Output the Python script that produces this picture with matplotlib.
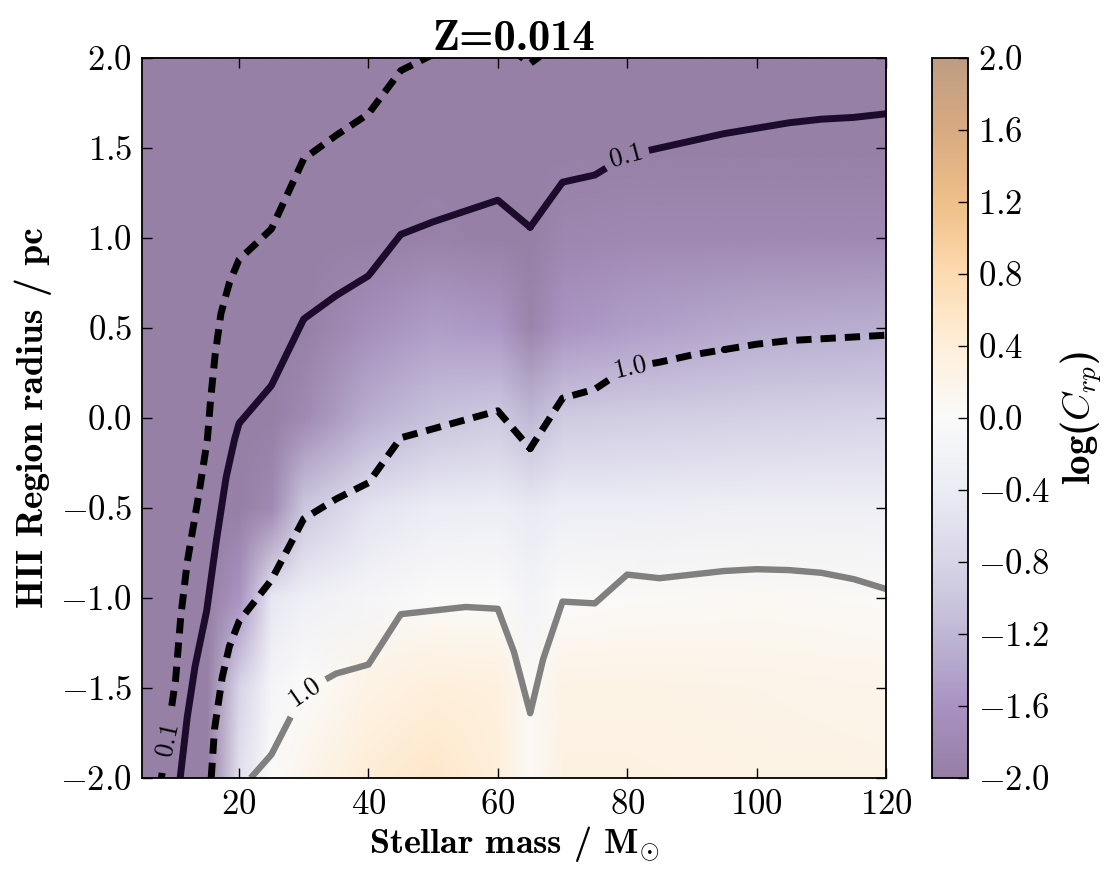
import numpy as np
import matplotlib
matplotlib.use('Agg')
import matplotlib.pyplot as plt
from matplotlib.image import NonUniformImage
from matplotlib.colors import ListedColormap
from matplotlib.ticker import FuncFormatter

plt.rcParams.update({
    'font.family': 'cmr10',
    'mathtext.fontset': 'cm',
    'axes.unicode_minus': False,
    'axes.linewidth': 1.3,
})

# background: log(C_rp) on a coarse grid
bg_mass = np.array([5, 10, 15, 20, 25, 30, 40, 50, 60, 65, 70, 80, 100, 120])
bg_radius = np.array([-2.0, -1.5, -1.0, -0.5, 0.0, 0.5, 1.0, 1.5, 2.0])
bg_logc = np.array([
    [-2.5, -2.5, -2.5, -0.6,  0.0,  0.2,  0.45,  0.55,  0.4,  0.05,  0.3,  0.3,  0.28,  0.25],
    [-2.5, -2.5, -2.5, -0.8, -0.15, 0.0,  0.25,  0.4,   0.35, 0.05,  0.25, 0.25, 0.22,  0.2],
    [-2.5, -2.5, -2.5, -1.6, -0.5, -0.3, -0.15,  0.0,   0.0, -0.2,   0.0,  0.05, 0.08,  0.05],
    [-2.5, -2.5, -2.5, -2.3, -1.8, -1.0, -0.55, -0.4,  -0.35, -0.45, -0.35, -0.35, -0.3, -0.3],
    [-2.5, -2.5, -2.5, -2.5, -2.2, -1.8, -1.3, -1.05, -0.95, -1.2, -0.95, -0.9, -0.85, -0.8],
    [-2.5, -2.5, -2.5, -2.5, -2.5, -2.1, -1.7,  -1.5,  -1.55, -1.9, -1.6, -1.5, -1.35, -1.3],
    [-2.5, -2.5, -2.5, -2.5, -2.5, -2.5, -2.0,  -1.95, -2.0, -2.2, -1.85, -1.8, -1.8, -1.8],
    [-2.5, -2.5, -2.5, -2.5, -2.5, -2.5, -2.4,  -2.3,  -2.3, -2.4, -2.3, -2.3, -2.3, -2.3],
    [-2.5, -2.5, -2.5, -2.5, -2.5, -2.5, -2.5,  -2.5,  -2.5, -2.5, -2.5, -2.5, -2.5, -2.5],
])

# contour lines (mass, radius)
dash01_mass = [8, 9, 10.2, 11, 12, 13.8, 15.1, 15.6, 16.3, 17.2, 18.5, 20, 25, 30, 35, 40, 45, 50, 55, 60, 65, 70, 80, 100, 120]
dash01_rad = [-2.0, -1.75, -1.45, -1.1, -0.8, -0.42, -0.12, 0.1, 0.35, 0.58, 0.75, 0.88, 1.05, 1.44, 1.57, 1.69, 1.93, 2.02, 2.08, 2.1, 1.97, 2.1, 2.2, 2.3, 2.4]

solid01_mass = [10.9, 12, 13.2, 15, 16.5, 18, 19.3, 20, 25, 30, 35, 40, 45, 50, 55, 60, 65, 70, 75, 80, 85, 90, 95, 100, 105, 110, 115, 120]
solid01_rad = [-2.0, -1.66, -1.38, -1.07, -0.68, -0.33, -0.12, -0.03, 0.18, 0.55, 0.68, 0.79, 1.02, 1.09, 1.15, 1.21, 1.06, 1.31, 1.35, 1.46, 1.50, 1.54, 1.58, 1.61, 1.64, 1.66, 1.67, 1.69]

dash10_mass = [15.7, 16.2, 17.4, 18.5, 20, 25, 30, 35, 40, 45, 50, 55, 60, 65, 70, 75, 80, 85, 90, 95, 100, 105, 110, 115, 120]
dash10_rad = [-2.0, -1.73, -1.44, -1.27, -1.13, -0.9, -0.56, -0.45, -0.36, -0.11, -0.06, -0.01, 0.04, -0.17, 0.11, 0.16, 0.28, 0.31, 0.35, 0.38, 0.41, 0.43, 0.44, 0.45, 0.46]

grey10_mass = [21.8, 25, 30, 35, 40, 45, 50, 55, 60, 62.5, 65, 67, 70, 75, 80, 85, 90, 95, 100, 105, 110, 115, 120]
grey10_rad = [-2.0, -1.87, -1.52, -1.42, -1.37, -1.09, -1.07, -1.05, -1.06, -1.3, -1.64, -1.34, -1.02, -1.03, -0.87, -0.89, -0.87, -0.85, -0.84, -0.845, -0.86, -0.895, -0.95]

cbar_ticks = np.round(np.arange(-2.0, 2.01, 0.4), 1)


def fmt1(v, p):
    return f'${round(v, 1) + 0.0:.1f}$'


# PuOr_r with half transparency baked in
cols = plt.get_cmap('PuOr_r')(np.linspace(0, 1, 256))
cols[:, 3] = 0.5
cmap = ListedColormap(cols)

fig = plt.figure(figsize=(11.15, 8.83), dpi=100)
ax = fig.add_axes([142/1115, 1 - 778/883, 744/1115, 720/883])

im = NonUniformImage(ax, interpolation='bilinear', cmap=cmap,
                     extent=(5, 120, -2, 2))
im.set_data(bg_mass, bg_radius, bg_logc)
im.set_clim(-2, 2)
ax.add_image(im)

rr = np.linspace(-3, 3, 601)


def draw_line(m, r, **kw):
    # radius-vs-mass curve drawn as the zero level of (radius - curve)
    field = rr[:, None] - np.asarray(r)[None, :]
    return ax.contour(np.asarray(m, float), rr, field, levels=[0], **kw)


dash = [(0, (2.2, 1.3))]
cs1 = draw_line(dash01_mass, dash01_rad, colors='k', linewidths=5, linestyles=dash)
cs2 = draw_line(solid01_mass, solid01_rad, colors='#1c0b2b', linewidths=5, linestyles='solid')
cs3 = draw_line(dash10_mass, dash10_rad, colors='k', linewidths=5, linestyles=dash)
cs4 = draw_line(grey10_mass, grey10_rad, colors='grey', linewidths=4.6, linestyles='solid')

for cs, txt, pos in [(cs1, '0.1', (8.4, -1.78)), (cs2, '0.1', (80, 1.45)),
                     (cs3, '1.0', (80.5, 0.27)), (cs4, '1.0', (30.2, -1.52))]:
    ax.clabel(cs, fmt={0: txt}, manual=[pos], inline=True, fontsize=19,
              colors='k', inline_spacing=6)

ax.set_xlim(5, 120)
ax.set_ylim(-2, 2)
ax.set_xticks([20, 40, 60, 80, 100, 120])
ax.set_yticks(np.arange(-2, 2.01, 0.5))
ax.xaxis.set_major_formatter(FuncFormatter(lambda v, p: f'${v:.0f}$'))
ax.yaxis.set_major_formatter(FuncFormatter(fmt1))
ax.tick_params(direction='in', top=True, right=True, length=7, width=1,
               labelsize=25)
ax.tick_params(axis='y', pad=7)
ax.tick_params(axis='x', pad=8)

ax.set_xlabel(r'Stellar mass / $\mathbf{M}_{\odot}$', fontfamily='cmb10', fontsize=26, labelpad=2)
ax.set_ylabel('HII Region radius / pc', fontfamily='cmb10', fontsize=27, labelpad=6)
ax.set_title('Z=0.014', fontfamily='cmb10', fontsize=32, pad=6)

cax = fig.add_axes([932/1115, 1 - 778/883, 36/1115, 720/883])
cb = fig.colorbar(im, cax=cax, ticks=cbar_ticks)
cb.ax.yaxis.set_major_formatter(FuncFormatter(fmt1))
cb.ax.tick_params(direction='in', length=7, width=1, labelsize=25, pad=7)
cb.outline.set_linewidth(1.3)
cb.set_label(r'log($C_{rp}$)', fontfamily='cmb10', fontsize=28, labelpad=6)

fig.savefig('out.png', dpi=100)
